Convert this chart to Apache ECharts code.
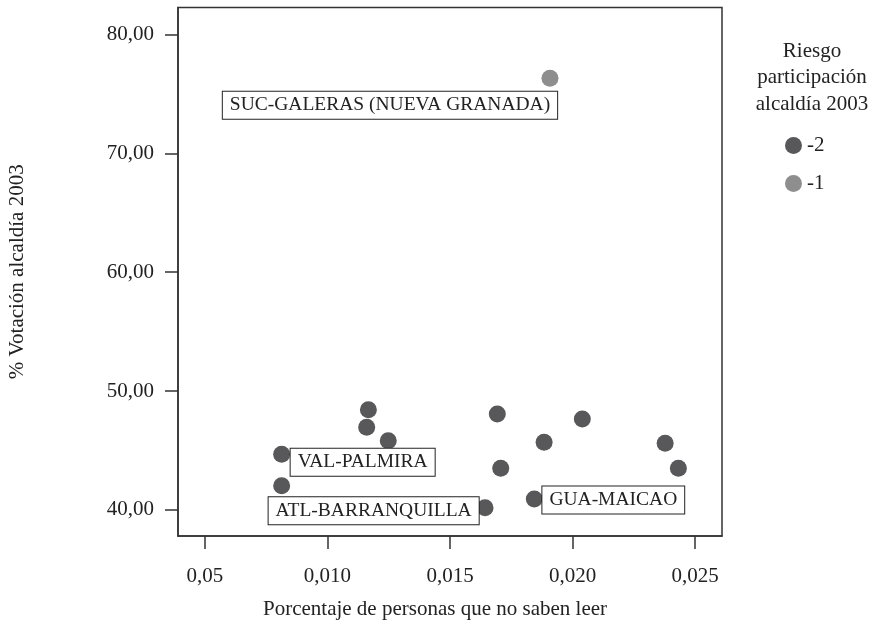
<!DOCTYPE html>
<html>
<head>
<meta charset="utf-8">
<script src="https://cdn.jsdelivr.net/npm/echarts@6/dist/echarts.min.js"></script>
<style>
html,body{margin:0;padding:0;background:#fff;}
#chart{width:869px;height:623px;}
</style>
</head>
<body>
<div id="chart"></div>
<script>
// Series "-2" (dark)
const xDark = [0.00813, 0.00813, 0.01167, 0.0116, 0.01248, 0.01643, 0.01693, 0.01707, 0.01884, 0.01844, 0.0204, 0.02378, 0.02432];
const yDark = [44.67, 42.02, 48.42, 46.94, 45.81, 40.17, 48.06, 43.49, 45.68, 40.90, 47.64, 45.59, 43.49];
const nameDark = ['VAL-PALMIRA', 'ATL-BARRANQUILLA', '', '', '', '', '', '', '', 'GUA-MAICAO', '', '', ''];
// Series "-1" (light)
const xLight = [0.01908];
const yLight = [76.33];
const nameLight = ['SUC-GALERAS (NUEVA GRANADA)'];

const xTickValues = [0.005, 0.010, 0.015, 0.020, 0.025];
const xTickLabels = ['0,05', '0,010', '0,015', '0,020', '0,025'];
const yTickValues = [40, 50, 60, 70, 80];
const yTickLabels = ['40,00', '50,00', '60,00', '70,00', '80,00'];
const seriesNames = ['-2', '-1'];

const FONT = "'Liberation Serif', 'DejaVu Serif', serif";
const TXT = '#222';
const labelOffsets = {
  'VAL-PALMIRA': [81, 8],
  'ATL-BARRANQUILLA': [92, 25],
  'GUA-MAICAO': [79, 1],
  'SUC-GALERAS (NUEVA GRANADA)': [-160, 27]
};

function buildData(xs, ys, names) {
  return xs.map((x, i) => {
    const item = { value: [x, ys[i]], name: names[i] };
    if (names[i]) {
      item.label = {
        show: true,
        formatter: '{b}',
        position: 'inside',
        align: 'center',
        verticalAlign: 'middle',
        offset: labelOffsets[names[i]],
        fontFamily: FONT,
        fontSize: 19.5,
        color: TXT,
        backgroundColor: '#fff',
        borderColor: '#222',
        borderWidth: 1,
        padding: [4, 7, 3, 7]
      };
    }
    return item;
  });
}

function lookup(vals, labels, v) {
  for (let i = 0; i < vals.length; i++) if (Math.abs(vals[i] - v) < 1e-9) return labels[i];
  return '';
}

const chart = echarts.init(document.getElementById('chart'), null, { renderer: 'canvas' });
chart.setOption({
  backgroundColor: '#fff',
  animation: false,
  textStyle: { fontFamily: FONT, color: TXT },
  title: {
    text: 'Riesgo\nparticipación\nalcaldía 2003',
    left: 807,
    top: 33,
    textAlign: 'center',
    textStyle: { fontFamily: FONT, fontSize: 21, fontWeight: 'normal', color: TXT, lineHeight: 26.5 }
  },
  legend: {
    data: seriesNames,
    orient: 'vertical',
    left: 780,
    top: 130,
    itemGap: 17,
    itemWidth: 17,
    itemHeight: 17,
    icon: 'circle',
    textStyle: { fontFamily: FONT, fontSize: 21, color: TXT }
  },
  grid: {
    left: 178, right: 147, top: 7.5, bottom: 87,
    show: true, borderColor: '#333', borderWidth: 1.5, backgroundColor: 'transparent',
    containLabel: false,
    outerBoundsMode: 'none'
  },
  xAxis: {
    type: 'value',
    min: 0.0039,
    max: 0.0261,
    name: 'Porcentaje de personas que no saben leer',
    nameLocation: 'middle',
    nameGap: 63,
    nameTextStyle: { fontFamily: FONT, fontSize: 21, color: TXT, padding: [0, 30, 0, 0] },
    splitLine: { show: false },
    axisLine: { show: true, lineStyle: { color: '#333', width: 1.5 } },
    axisTick: { show: true, length: 13, customValues: xTickValues, lineStyle: { color: '#333', width: 1.5 } },
    axisLabel: {
      customValues: xTickValues,
      margin: 30,
      fontFamily: FONT, fontSize: 21, color: TXT,
      formatter: v => lookup(xTickValues, xTickLabels, v)
    }
  },
  yAxis: {
    type: 'value',
    min: 37.79,
    max: 82.29,
    name: '% Votación alcaldía 2003',
    nameLocation: 'middle',
    nameGap: 150,
    nameTextStyle: { fontFamily: FONT, fontSize: 21, color: TXT },
    splitLine: { show: false },
    axisLine: { show: true, lineStyle: { color: '#333', width: 1.5 } },
    axisTick: { show: true, length: 13, customValues: yTickValues, lineStyle: { color: '#333', width: 1.5 } },
    axisLabel: {
      customValues: yTickValues,
      margin: 24,
      fontFamily: FONT, fontSize: 21, color: TXT,
      formatter: v => lookup(yTickValues, yTickLabels, v)
    }
  },
  series: [
    {
      name: seriesNames[0],
      type: 'scatter',
      symbolSize: 17,
      itemStyle: { color: '#58585a', opacity: 1 },
      data: buildData(xDark, yDark, nameDark)
    },
    {
      name: seriesNames[1],
      type: 'scatter',
      symbolSize: 17,
      itemStyle: { color: '#8e8e8e', opacity: 1 },
      data: buildData(xLight, yLight, nameLight)
    }
  ]
});
</script>
</body>
</html>
